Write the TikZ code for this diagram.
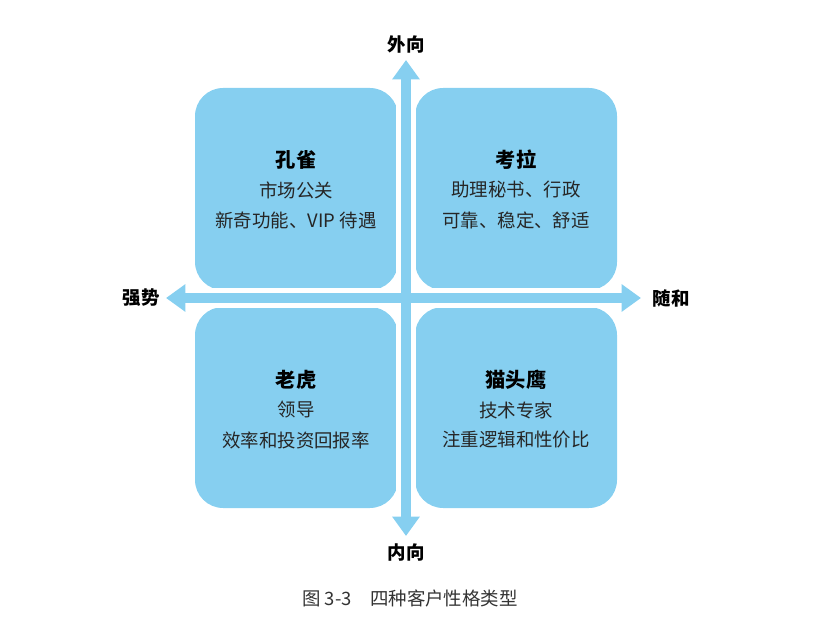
\documentclass[tikz,border=0pt]{standalone}
\usepackage{fontspec}
\setmainfont{Noto Sans CJK SC}
\usetikzlibrary{arrows.meta}
\definecolor{qb}{HTML}{86CFF0}
\tikzset{
  quad/.style={fill=qb,rounded corners=16pt},
  ttl/.style={font=\fontsize{11.5}{13}\selectfont\bfseries,text=black},
  txt/.style={font=\fontsize{10.5}{12}\selectfont,text=black!85},
  axl/.style={font=\fontsize{10.5}{12}\selectfont\bfseries,text=black},
  axis/.style={draw=qb,line width=5.5pt,{Triangle[width=15pt,length=11pt]}-{Triangle[width=15pt,length=11pt]}},
  gap/.style={draw=white,line width=11pt}
}
\begin{document}
\begin{tikzpicture}[x=0.02cm,y=-0.02cm]
\useasboundingbox (0,0) rectangle (828,624);
\fill[quad] (195,88) rectangle (398,290);
\fill[quad] (415,88) rectangle (617,290);
\fill[quad] (195,307) rectangle (398,508);
\fill[quad] (415,307) rectangle (617,508);
\coordinate (T) at (406,60); \coordinate (B) at (406,536);
\coordinate (L) at (166,298); \coordinate (R) at (641,298);
\draw[gap] (406,84) -- (406,512);
\draw[gap] (190,298) -- (617,298);
\draw[axis] (B) -- (T);
\draw[axis] (R) -- (L);
\node[axl] (up) at (406,44) {外向};
\node[axl] (dn) at (406,553) {内向};
\node[axl] (lf) at (141,298) {强势};
\node[axl] (rt) at (671,298) {随和};
\node[ttl] (t1) at (296,160) {孔雀};
\node[txt] (a1) at (296,190) {市场公关};
\node[txt] (b1) at (296,220) {新奇功能、VIP 待遇};
\node[ttl] (t2) at (516,160) {考拉};
\node[txt] (a2) at (516,190) {助理秘书、行政};
\node[txt] (b2) at (516,220) {可靠、稳定、舒适};
\node[ttl] (t3) at (296,380) {老虎};
\node[txt] (a3) at (296,410) {领导};
\node[txt] (b3) at (296,440) {效率和投资回报率};
\node[ttl] (t4) at (516,380) {猫头鹰};
\node[txt] (a4) at (516,410) {技术专家};
\node[txt] (b4) at (516,440) {注重逻辑和性价比};
\node[font=\fontsize{10.5}{12}\selectfont,text=black!80] (cap) at (410,598) {图 3-3\quad 四种客户性格类型};
\end{tikzpicture}
\end{document}
